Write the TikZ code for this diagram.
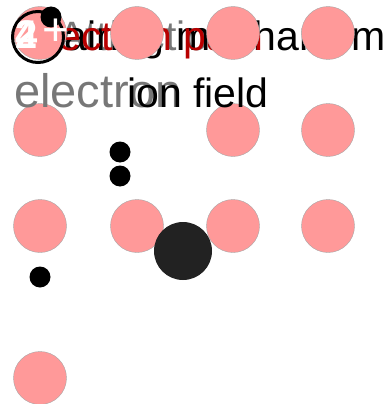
\documentclass[tikz,border=0pt]{standalone}
\usepackage{fontspec}
\setmainfont{Liberation Sans}

\definecolor{ionpink}{HTML}{FF9999}
\definecolor{capred}{HTML}{B80000}
\definecolor{capgray}{HTML}{777777}
\definecolor{heavy}{HTML}{222222}

\newcommand{\capsize}[1]{\fontsize{#1}{#1}\selectfont}

\tikzset{
  ion/.style={circle, fill=ionpink, draw=black!35, line width=0.4pt, minimum size=53pt, inner sep=0pt},
  electron/.style={circle, fill=black, minimum size=21pt, inner sep=0pt},
  caption/.style={inner sep=0pt, anchor=base west}
}

\begin{document}
\begin{tikzpicture}[x=1pt, y=-1pt]
      \useasboundingbox (0,0) rectangle (387,404);

      % captions, first line
      \node[caption, text=capgray] (capA) at (58,51) {\capsize{41}Attraction};
      \node[caption, text=black, anchor=base east] (capB) at (386,51) {\capsize{41}Pairing mechanism};
      \node[caption, text=capred, anchor=base east] (capC) at (264,51) {\capsize{41}Electron path};

      % lattice ions
      \node[ion] (i11) at (40,33) {};
      \node[ion] (i12) at (137,33) {};
      \node[ion] (i13) at (233,33) {};
      \node[ion] (i14) at (328,33) {};
      \node[ion] (i21) at (40,130) {};
      \node[ion] (i23) at (233,130) {};
      \node[ion] (i24) at (328,130) {};
      \node[ion] (i31) at (40,226) {};
      \node[ion] (i32) at (137,226) {};
      \node[ion] (i33) at (233,226) {};
      \node[ion] (i34) at (328,226) {};
      \node[ion] (i41) at (40,378) {};

      % captions, second line
      \node[caption, text=capgray] (capD) at (14,107) {\capsize{47}electron};
      \node[caption, text=black] (capE) at (127,107) {\capsize{41}ion field};

      % electrons
      \node[electron] (e1) at (120,152) {};
      \node[electron] (e2) at (120,176) {};
      \node[electron] (e3) at (40,277) {};
      \node[circle, fill=heavy, minimum size=58pt, inner sep=0pt] (big) at (183,251) {};

      % step badge
      \node[circle, draw=black, line width=3pt, minimum size=51pt, inner sep=0pt] (badge) at (38,37) {};
      \node[electron] (e0) at (51,17) {};
      \node[text=white, inner sep=0pt] (stepA) at (27,35) {\capsize{40}\bfseries 2};
      \node[text=white, inner sep=0pt] (stepB) at (27,35) {\capsize{40}\bfseries 4};
      \node[text=white, inner sep=0pt] (plus) at (56,32) {\capsize{46}+};
    \end{tikzpicture}
\end{document}
